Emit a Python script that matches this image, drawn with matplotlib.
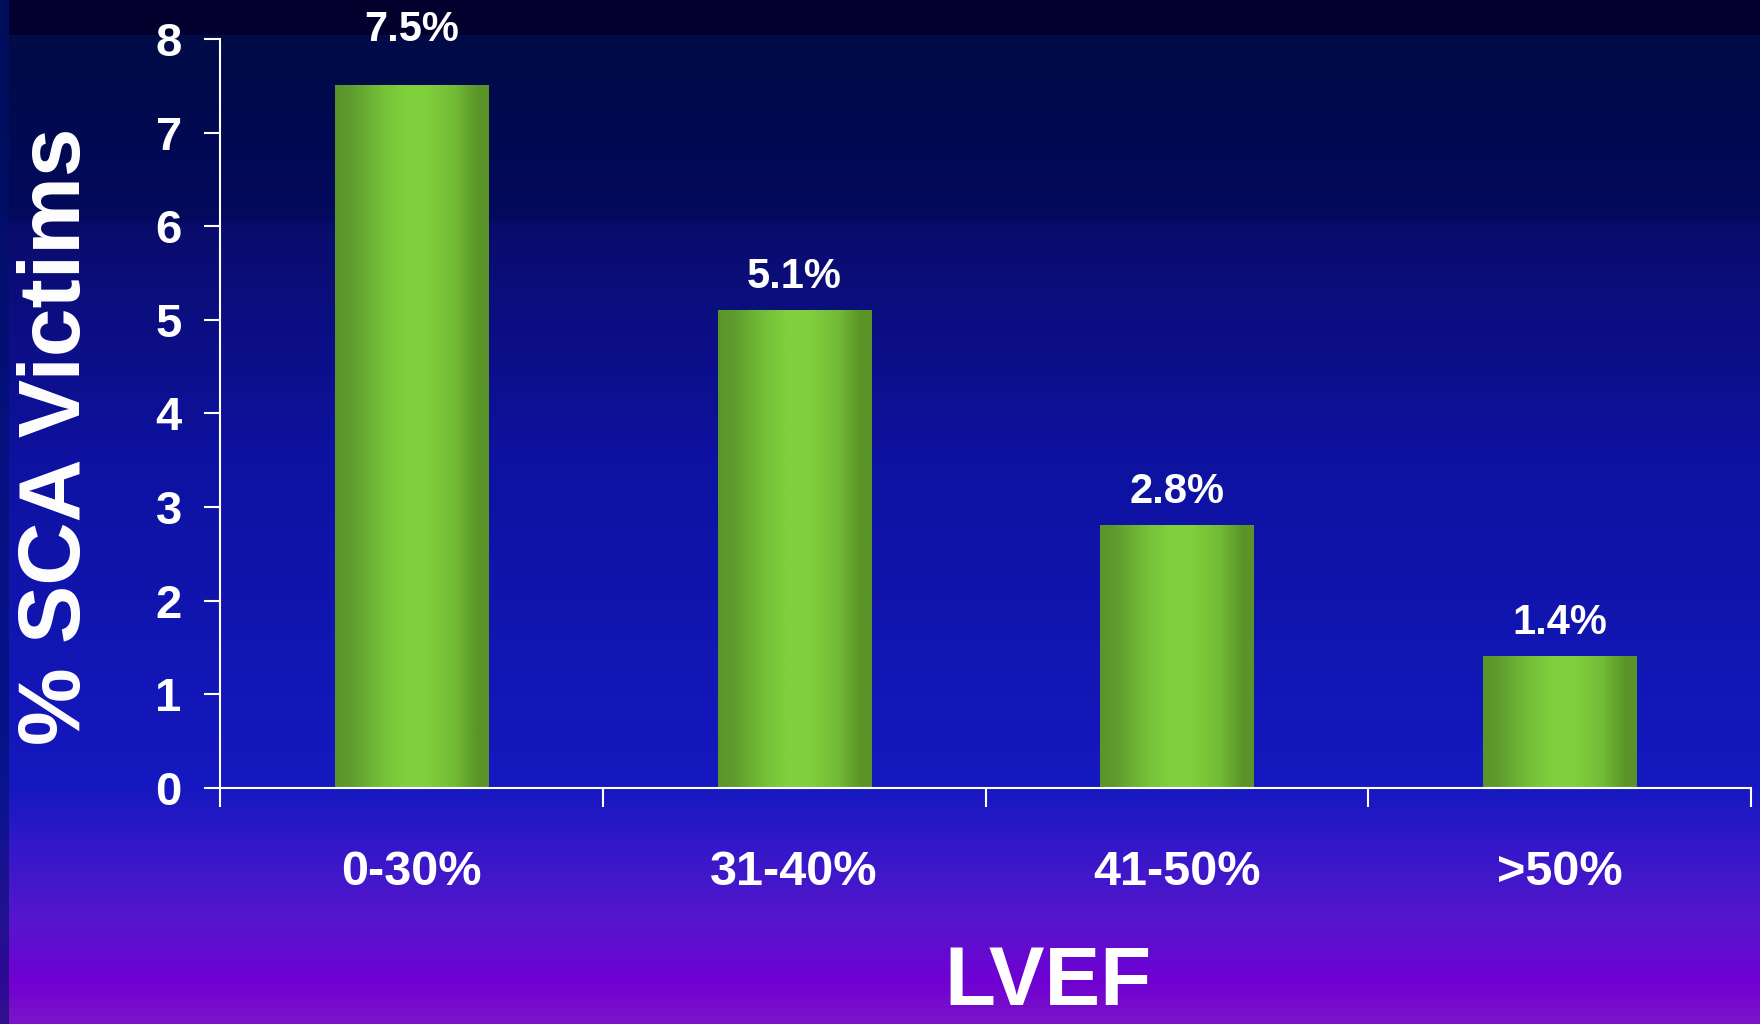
import numpy as np
import matplotlib
matplotlib.use("Agg")
import matplotlib.pyplot as plt
from matplotlib.colors import LinearSegmentedColormap
from matplotlib.patches import Rectangle

# LVEF bands and share of SCA victims in each
categories = ["0-30%", "31-40%", "41-50%", ">50%"]
sca_pct = [7.5, 5.1, 2.8, 1.4]
y_ticks = [0, 1, 2, 3, 4, 5, 6, 7, 8]

bold = ["Liberation Sans", "DejaVu Sans"]

fig = plt.figure(figsize=(17.6, 10.24), dpi=100)

# slide-style background: navy at the top fading to violet at the bottom
bg = fig.add_axes([0, 0, 1, 1], zorder=-10)
bg_cmap = LinearSegmentedColormap.from_list("bg", [
    (0.00, "#000c44"),
    (0.10, "#010a4e"),
    (0.21, "#04095c"),
    (0.22, "#0a0c6c"),
    (0.45, "#0e12a0"),
    (0.77, "#1519c0"),
    (0.83, "#3418c8"),
    (0.90, "#5616cc"),
    (0.96, "#7000d2"),
    (1.00, "#7a14c8"),
])
bg.imshow(np.linspace(0, 1, 512).reshape(-1, 1), cmap=bg_cmap, aspect="auto",
          extent=[0, 1, 0, 1], origin="upper")
bg.set_xlim(0, 1)
bg.set_ylim(0, 1)
bg.axis("off")
bg.add_patch(Rectangle((0, 0), 0.005, 1, color="#00106a", alpha=0.6, lw=0))
bg.add_patch(Rectangle((0.005, 1 - 35 / 1024), 1, 35 / 1024, color="#03002e", lw=0))

ax = fig.add_axes([0.125, 0.2305, 0.8699, 0.7314])
ax.set_facecolor("none")

x = np.arange(len(categories))
bars = ax.bar(x, sca_pct, width=0.4, color="none", linewidth=0, zorder=2)

# cylinder-like shading across each bar
bar_cmap = LinearSegmentedColormap.from_list("bar", [
    (0.00, "#5a952a"), (0.10, "#5f9b2e"), (0.30, "#74bf38"),
    (0.45, "#80d03c"), (0.60, "#80cf3c"), (0.78, "#72bb36"),
    (0.93, "#5a9428"), (1.00, "#5a9428"),
])
grad = np.linspace(0, 1, 256).reshape(1, -1)
for b in bars:
    x0, w, h = b.get_x(), b.get_width(), b.get_height()
    ax.imshow(grad, cmap=bar_cmap, aspect="auto", extent=[x0, x0 + w, 0, h],
              zorder=2, interpolation="bilinear")

label_offsets = [32, 16.5, 16.5, 16.5]
for xi, v, off in zip(x, sca_pct, label_offsets):
    ax.annotate(f"{v:.1f}%", xy=(xi, v), xytext=(0, off), textcoords="offset points",
                ha="center", va="baseline", color="white", fontsize=30,
                fontweight="bold", family=bold, annotation_clip=False)

ax.set_xlim(-0.5, len(categories) - 0.5)
ax.set_ylim(0, 8)

# boundary ticks between categories, labels centred under bars
ax.set_xticks(np.arange(len(categories) + 1) - 0.5)
ax.set_xticklabels([])
ax.set_xticks(x, minor=True)
ax.set_xticklabels(categories, minor=True)
ax.tick_params(axis="x", which="major", direction="out", length=13.5, width=1.5,
               color="white")
ax.tick_params(axis="x", which="minor", length=0, pad=45, labelcolor="white")
for t in ax.get_xticklabels(minor=True):
    t.set_fontsize(35)
    t.set_fontweight("bold")
    t.set_family(bold)

ax.set_yticks(y_ticks)
ax.set_yticklabels([str(t) for t in y_ticks])
ax.tick_params(axis="y", direction="out", length=11.5, width=1.5, color="white",
               labelcolor="white", pad=16)
for t in ax.get_yticklabels():
    t.set_fontsize(34)
    t.set_fontweight("bold")
    t.set_family(bold)

for side in ["top", "right"]:
    ax.spines[side].set_visible(False)
for side in ["left", "bottom"]:
    ax.spines[side].set_color("white")
    ax.spines[side].set_linewidth(1.5)

fig.text(0.0325, 0.574, "% SCA Victims", rotation=90, ha="center", va="center",
         color="white", fontsize=63, fontweight="bold", family=bold)
fig.text(0.5955, 0.002, "LVEF", ha="center", va="bottom", color="white",
         fontsize=60, fontweight="bold", family=bold)

fig.savefig("out.png", dpi=100)
